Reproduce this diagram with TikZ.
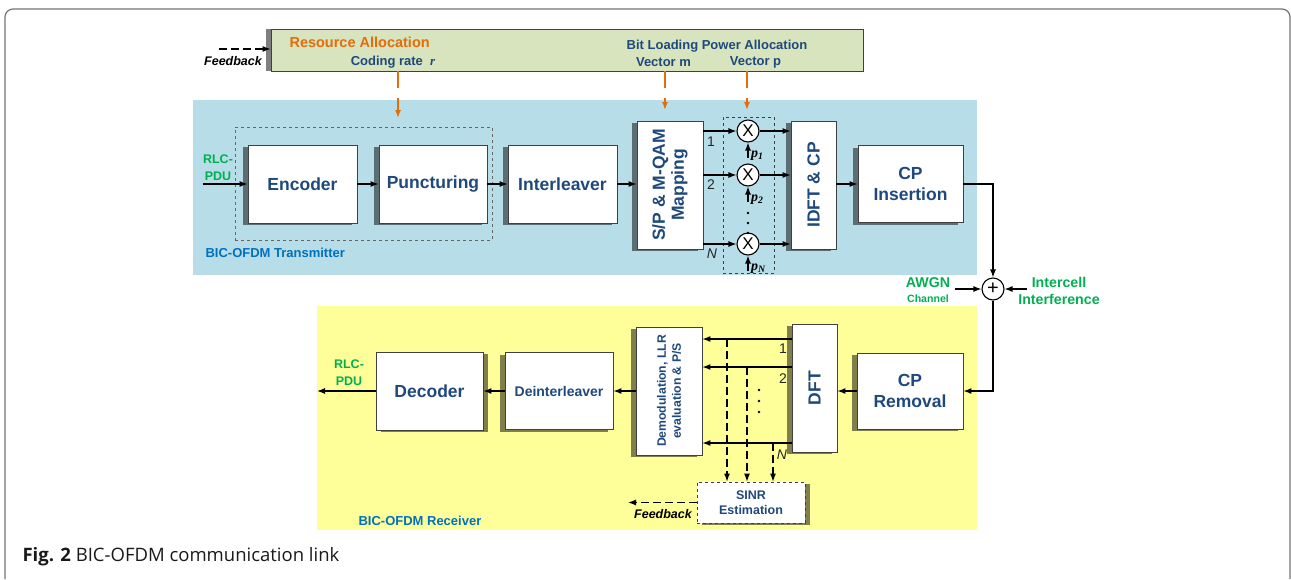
\documentclass[tikz,border=0pt]{standalone}
\usepackage{fontspec}
\setmainfont{Liberation Sans}
\newfontfamily\serifp{Liberation Serif}
\newfontfamily\capfont{Open Sans}
\usetikzlibrary{arrows.meta,shadows}
\definecolor{txtblue}{HTML}{1F497D}
\definecolor{regblue}{HTML}{0070C0}
\definecolor{txbg}{HTML}{B7DEE8}
\definecolor{rxbg}{HTML}{FFFF99}
\definecolor{barbg}{HTML}{D7E4BD}
\definecolor{orng}{HTML}{E46C0A}
\definecolor{grn}{HTML}{00B050}
\begin{document}
\begin{tikzpicture}[x=1pt,y=-1pt,>={Latex[length=8pt,width=6pt]},
    blk/.style={draw=black!75,fill=white,line width=0.8pt,inner sep=0pt,text=txtblue,align=center,font=\bfseries\fontsize{17.5}{21}\selectfont},
    lsh/.style={drop shadow={shadow xshift=-5pt,shadow yshift=-2pt,opacity=0.5,fill=black}},
    rsh/.style={drop shadow={shadow xshift=5pt,shadow yshift=-2pt,opacity=0.5,fill=black}},
    vtxt/.style={rotate=90,text=txtblue,align=center,font=\bfseries\fontsize{17.5}{19}\selectfont},
    mult/.style={circle,draw,line width=1.1pt,fill=white,minimum size=22pt,inner sep=0pt,font=\fontsize{17}{17}\selectfont},
    sig/.style={line width=1.2pt,->},
    darr/.style={line width=1.2pt,->,dash pattern=on 8pt off 4pt},
    oarr/.style={draw=orng,line width=1.5pt,->,dash pattern=on 17pt off 10pt on 200pt},
    lbl/.style={text=txtblue,font=\bfseries\fontsize{13}{15}\selectfont},
    grnlbl/.style={text=grn,align=center,font=\bfseries\fontsize{14.2}{17}\selectfont},
    pdu/.style={text=grn,align=center,font=\bfseries\fontsize{12.5}{17}\selectfont},
    num/.style={text=black!85,font=\fontsize{14}{14}\selectfont},
    fb/.style={font=\bfseries\itshape\fontsize{12.5}{14}\selectfont},
    reglbl/.style={anchor=west,text=regblue,font=\bfseries\fontsize{13}{15}\selectfont},
    plbl/.style={anchor=west,inner sep=1pt,font=\serifp\bfseries\itshape\fontsize{14}{14}\selectfont}]
\useasboundingbox (0,0) rectangle (1291,579);
\draw[black!55,line width=1.2pt,rounded corners=8pt] (5,579) -- (5,9) -- (1290,9) -- (1290,579);
\fill[txbg] (193,100) rectangle (977,275);
\fill[rxbg] (317,306) rectangle (977,530);

\node[draw=black!75,fill=barbg,line width=0.8pt,minimum width=592,minimum height=42,inner sep=0pt,
      drop shadow={shadow xshift=-5pt,shadow yshift=0pt,opacity=0.5,fill=black}] (alloc) at (567,50) {};
\node[anchor=west,text=orng,font=\bfseries\fontsize{14.5}{17}\selectfont] (ra) at (286,42) {Resource Allocation};
\node[lbl] (cr) at (393,62) {Coding rate \ {\serifp\itshape r}};
\node[lbl] (bl) at (717,46) {Bit Loading Power Allocation};
\node[lbl] (vm) at (663.5,62) {Vector m};
\node[lbl] (vp) at (755.5,62) {Vector p};
\coordinate (fbin) at (219,49);
\draw[darr] (fbin) -- (fbin -| alloc.west);
\node[fb] (fbtop) at (233,61) {Feedback};

\node[draw=black!60,dashed,line width=0.8pt,minimum width=257,minimum height=113] (grp) at (363.5,183.5) {};
\node[blk,lsh,minimum width=109,minimum height=78] (enc) at (302.5,184) {Encoder};
\node[blk,lsh,minimum width=108,minimum height=78] (punc) at (433,184) {Puncturing};
\node[blk,lsh,minimum width=109,minimum height=78] (intl) at (562.5,184) {Interleaver};
\node[blk,lsh,minimum width=66,minimum height=128] (sp) at (670,185) {};
\node[vtxt] (sptxt) at (sp) {S/P \& M-QAM\\Mapping};
\node[draw=black!75,dashed,line width=0.9pt,minimum width=51,minimum height=156] (mbox) at (748.5,195) {};
\node[blk,lsh,minimum width=45,minimum height=128] (idft) at (813.5,185) {};
\node[vtxt] (idfttxt) at (idft) {IDFT \& CP};
\node[blk,lsh,minimum width=105,minimum height=77] (cpi) at (910.5,184) {CP\\Insertion};
\node[reglbl] (txlbl) at (202,253) {BIC-OFDM Transmitter};

\coordinate (rarr) at (398,118);
\coordinate (marr) at (665,110);
\coordinate (parr) at (747,110);
\foreach \a in {rarr,marr,parr}
    \draw[oarr] (alloc.south -| \a) -- (\a);

\coordinate (txin) at (203,184);
\node[pdu] (txpdu) at (218,168) {RLC-\\PDU};
\draw[sig] (txin) -- (enc);
\draw[sig] (enc) -- (punc);
\draw[sig] (punc) -- (intl);
\draw[sig] (intl) -- (intl -| sp.west);
\foreach \n/\y/\t in {1/131/1,2/175/2,3/244/N} {
    \node[mult] (m\n) at (748,\y) {X};
    \draw[sig] (sp.east |- m\n) -- (m\n);
    \draw[sig] (m\n) -- (idft.west |- m\n);
    \coordinate (pin\n) at (748,\y+27);
    \draw[sig] (pin\n) -- (m\n);
    \node[plbl] (pl\n) at (750,\y+25) {p\textsubscript{\t}};
}
\node[num] (t1) at (711,142) {1};
\node[num] (t2) at (711,185) {2};
\node[num,font=\itshape\fontsize{14}{14}\selectfont] (t3) at (712,254) {N};
\foreach \y in {213,223,233}
    \fill (748,\y) circle (1.3);
\draw[sig] (idft.east |- cpi) -- (cpi);

\node[mult,font=\fontsize{20}{20}\selectfont] (sum) at (993,289) {+};
\draw[sig] (cpi.east) -| (sum.north);
\node[grnlbl] (awgn) at (928,283) {AWGN};
\node[grnlbl,font=\bfseries\fontsize{10.6}{12}\selectfont] (chan) at (928,299) {Channel};
\coordinate (awin) at (955,289);
\draw[sig] (awin) -- (sum);
\node[grnlbl] (icf) at (1059,290.5) {Intercell\\Interference};
\coordinate (icin) at (1027,289);
\draw[sig] (icin) -- (sum);

\node[blk,lsh,minimum width=106,minimum height=76] (cpr) at (910,391) {CP\\Removal};
\node[blk,lsh,minimum width=45,minimum height=128] (dft) at (814.5,388) {};
\node[vtxt] (dfttxt) at (dft) {DFT};
\node[blk,lsh,minimum width=66,minimum height=128] (dem) at (669,391) {};
\node[vtxt,font=\bfseries\fontsize{12.2}{15}\selectfont] (demtxt) at (dem) {Demodulation, LLR\\evaluation \& P/S};
\node[blk,lsh,minimum width=108,minimum height=77,font=\bfseries\fontsize{14}{16}\selectfont] (dint) at (559,391) {Deinterleaver};
\node[blk,rsh,minimum width=107,minimum height=78] (dec) at (429.5,391) {Decoder};
\node[blk,rsh,dashed,minimum width=108,minimum height=41,font=\bfseries\fontsize{12.5}{15}\selectfont] (sinr) at (751,502.5) {SINR\\Estimation};
\node[reglbl] (rxlbl) at (355,521) {BIC-OFDM Receiver};

\draw[sig] (sum.south) |- (cpr.east);
\draw[sig] (cpr.west) -- (cpr.west -| dft.east);
\foreach \n/\y/\x in {1/339/727,2/367/747,3/443/773} {
    \coordinate (r\n) at (792,\y);
    \coordinate (d\n) at (\x,\y);
    \draw[sig] (r\n) -- (r\n -| dem.east);
    \draw[darr] (d\n) -- (d\n |- sinr.north);
}
\node[num] (u1) at (783,349) {1};
\node[num] (u2) at (783,379) {2};
\node[num,font=\itshape\fontsize{14}{14}\selectfont] (u3) at (782,455) {N};
\foreach \y in {390,401,412}
    \fill (759,\y) circle (1.3);
\draw[sig] (dem) -- (dint);
\draw[sig] (dint) -- (dec);
\coordinate (rxout) at (317,391);
\draw[sig] (dec) -- (rxout);
\node[pdu] (rxpdu) at (349,373) {RLC-\\PDU};
\coordinate (fbout) at (628,502.5);
\draw[darr] (sinr.west) -- (fbout);
\node[fb] (fbbot) at (663,514) {Feedback};

\node[anchor=west,text=black!90,font=\capfont\fontsize{18.5}{22}\selectfont] (cap) at (19,557) {\textbf{Fig. 2} BIC-OFDM communication link};
\end{tikzpicture}
\end{document}
